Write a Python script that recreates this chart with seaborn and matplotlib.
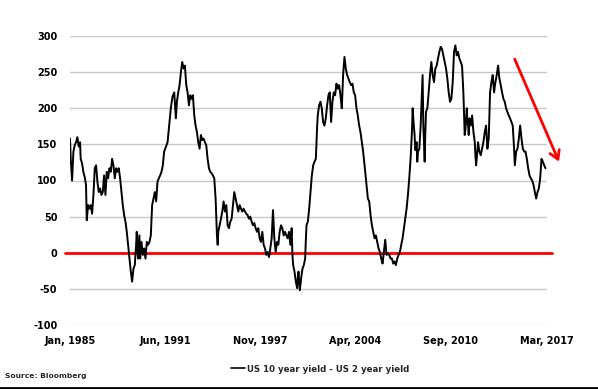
import numpy as np
import pandas as pd
import seaborn as sns
import matplotlib
matplotlib.use("Agg")
import matplotlib.pyplot as plt
from matplotlib.lines import Line2D

years = [
    1985.00, 1985.05, 1985.14, 1985.23, 1985.32, 1985.41, 1985.50, 1985.59, 1985.68, 1985.72,
    1985.81, 1985.90, 1985.99, 1986.08, 1986.13, 1986.22, 1986.31, 1986.40, 1986.49, 1986.58,
    1986.67, 1986.76, 1986.85, 1986.94, 1987.03, 1987.12, 1987.21, 1987.30, 1987.39, 1987.48,
    1987.57, 1987.66, 1987.75, 1987.84, 1987.93, 1988.02, 1988.11, 1988.20, 1988.29, 1988.38,
    1988.47, 1988.56, 1988.65, 1988.74, 1988.83, 1988.92, 1989.01, 1989.10, 1989.19, 1989.28,
    1989.37, 1989.46, 1989.50, 1989.59, 1989.68, 1989.73, 1989.82, 1989.91, 1990.00, 1990.09,
    1990.18, 1990.27, 1990.36, 1990.45, 1990.54, 1990.63, 1990.72, 1990.81, 1990.90, 1990.99,
    1991.08, 1991.17, 1991.26, 1991.35,
    1991.58, 1991.69, 1991.80, 1991.91, 1992.03, 1992.14, 1992.21, 1992.30, 1992.39, 1992.48,
    1992.57, 1992.66, 1992.75, 1992.84, 1992.93, 1993.02, 1993.11, 1993.20, 1993.29, 1993.38,
    1993.47, 1993.56, 1993.65, 1993.74, 1993.83, 1993.92, 1994.01, 1994.10, 1994.19, 1994.28,
    1994.37, 1994.46, 1994.55, 1994.64, 1994.73, 1994.82, 1994.87, 1994.91, 1994.96, 1995.00,
    1995.09, 1995.18, 1995.27, 1995.36, 1995.45, 1995.54, 1995.63, 1995.72, 1995.81, 1995.90,
    1995.99, 1996.08, 1996.17, 1996.26, 1996.35, 1996.44, 1996.53, 1996.62, 1996.71, 1996.80,
    1996.89, 1996.98, 1997.07, 1997.16, 1997.25, 1997.34, 1997.43, 1997.52, 1997.61, 1997.70,
    1997.79, 1997.88, 1997.97, 1998.06,
    1998.15, 1998.24, 1998.33, 1998.42, 1998.51, 1998.60, 1998.69, 1998.74, 1998.78, 1998.87,
    1998.96, 1999.05, 1999.14, 1999.23, 1999.32, 1999.41, 1999.50, 1999.59, 1999.68, 1999.77,
    1999.86, 1999.95, 2000.00, 2000.05, 2000.14, 2000.23, 2000.32, 2000.36, 2000.41, 2000.50,
    2000.59, 2000.68, 2000.77, 2000.86, 2000.90, 2000.95, 2001.04, 2001.13, 2001.22, 2001.31,
    2001.40, 2001.49, 2001.58, 2001.67, 2001.71, 2001.80, 2001.89, 2001.98, 2002.07, 2002.16,
    2002.25, 2002.34, 2002.43, 2002.52, 2002.61, 2002.70, 2002.79, 2002.88, 2002.97, 2003.06,
    2003.15, 2003.24, 2003.33, 2003.42, 2003.51, 2003.60, 2003.69, 2003.78, 2003.87, 2003.96,
    2004.05, 2004.14, 2004.23, 2004.32, 2004.41, 2004.50, 2004.59, 2004.68, 2004.77, 2004.86,
    2004.91, 2005.00, 2005.09, 2005.18, 2005.27, 2005.36, 2005.45, 2005.54, 2005.63, 2005.72,
    2005.81, 2005.90, 2005.99, 2006.08, 2006.17, 2006.26, 2006.35, 2006.44, 2006.53, 2006.62,
    2006.71, 2006.80, 2006.89, 2006.98, 2007.07, 2007.16, 2007.25, 2007.34, 2007.43, 2007.52,
    2007.61, 2007.70, 2007.79, 2007.88, 2007.97, 2008.06, 2008.11, 2008.15, 2008.24, 2008.29,
    2008.38, 2008.42, 2008.47, 2008.56, 2008.65, 2008.74, 2008.78, 2008.83, 2008.87, 2008.92,
    2008.96, 2009.01, 2009.10, 2009.19, 2009.28, 2009.37, 2009.46, 2009.55, 2009.64, 2009.73,
    2009.82, 2009.91, 2010.00, 2010.09, 2010.18, 2010.27, 2010.36, 2010.45, 2010.54, 2010.63,
    2010.72, 2010.81, 2010.90, 2010.99, 2011.08, 2011.17, 2011.26, 2011.35, 2011.44, 2011.53,
    2011.62,
    2011.67, 2011.76, 2011.80, 2011.85, 2011.89, 2011.94, 2012.03, 2012.12, 2012.21, 2012.30,
    2012.34, 2012.39, 2012.43, 2012.52, 2012.61, 2012.70, 2012.79, 2012.88, 2012.97, 2013.06,
    2013.15, 2013.24, 2013.33, 2013.42, 2013.51, 2013.60, 2013.69, 2013.78, 2013.87, 2013.96,
    2014.05, 2014.14, 2014.23, 2014.32, 2014.41, 2014.50, 2014.59, 2014.68, 2014.77, 2014.86,
    2014.95, 2015.00, 2015.09, 2015.18, 2015.27, 2015.36, 2015.45, 2015.54, 2015.63, 2015.72,
    2015.81, 2015.90, 2015.99, 2016.08, 2016.17, 2016.26, 2016.35, 2016.44, 2016.53, 2016.62,
    2016.71, 2016.80, 2016.89, 2016.98, 2017.07,
]

spread_bp = [
    158, 130, 100, 140, 149, 153, 160, 147, 153, 130,
    124, 112, 105, 94, 45, 66, 61, 66, 54, 80,
    117, 121, 98, 84, 89, 80, 84, 107, 80, 112,
    103, 117, 112, 130, 121, 103, 117, 112, 117, 103,
    84, 66, 52, 43, 29, 11, -8, -26, -40, -22,
    -17, 11, 29, -8, 24, -8, 15, -3, 6, -8,
    15, 11, 15, 24, 66, 75, 84, 71, 98, 103,
    107, 112, 121, 140,
    153, 176, 200, 216, 222, 186, 209, 222, 232, 250,
    264, 255, 259, 232, 222, 204, 218, 213, 218, 190,
    176, 167, 153, 144, 163, 156, 158, 153, 149, 130,
    117, 112, 110, 107, 103, 75, 47, 24, 11, 29,
    38, 47, 57, 71, 57, 66, 38, 34, 43, 47,
    66, 84, 75, 66, 57, 66, 61, 57, 61, 57,
    54, 52, 47, 50, 43, 38, 41, 34, 29, 34,
    20, 15, 29, 11,
    6, -3, 1, -6, 6, 20, 59, 38, 20, 1,
    15, 11, 29, 38, 34, 24, 29, 24, 20, 29,
    11, 34, -3, -17, -26, -40, -49, -35, -26, -52,
    -35, -22, -17, -8, 15, 38, 43, 61, 84, 107,
    121, 126, 130, 176, 190, 204, 209, 200, 181, 176,
    186, 204, 218, 222, 181, 209, 222, 218, 234, 227,
    232, 218, 200, 246, 271, 255, 246, 241, 236, 232,
    234, 222, 218, 200, 190, 176, 167, 153, 140, 121,
    112, 94, 75, 71, 52, 38, 29, 20, 24, 15,
    6, 1, -8, -15, 1, 18, -3, -1, -3, -8,
    -8, -15, -12, -17, -8, -3, 1, 11, 20, 34,
    47, 61, 80, 103, 130, 167, 200, 186, 163, 142,
    153, 126, 140, 144, 176, 222, 246, 176, 153, 126,
    163, 195, 200, 222, 246, 264, 246, 236, 255, 259,
    269, 278, 285, 282, 273, 264, 255, 241, 222, 209,
    213, 236, 278, 287, 273, 278, 269, 264, 259, 222,
    163,
    171, 200, 181, 176, 163, 186, 176, 190, 167, 153,
    135, 121, 130, 153, 140, 135, 144, 153, 167, 176,
    144, 158, 222, 236, 246, 222, 236, 246, 259, 241,
    232, 222, 213, 209, 200, 195, 190, 186, 181, 176,
    144, 121, 140, 144, 158, 176, 158, 144, 140, 140,
    130, 117, 107, 103, 100, 94, 84, 75, 84, 89,
    103, 130, 126, 121, 117,
]

tick_years = [1985.0, 1991.42, 1997.83, 2004.25, 2010.67, 2017.17]
tick_labels = ["Jan, 1985", "Jun, 1991", "Nov, 1997", "Apr, 2004", "Sep, 2010", "Mar, 2017"]
y_ticks = [-100, -50, 0, 50, 100, 150, 200, 250, 300]
series_name = "US 10 year yield - US 2 year yield"
source_text = "Source: Bloomberg"
arrow_start = (2014.99, 268)
arrow_end = (2017.98, 126)

df = pd.DataFrame({"year": years, "spread": spread_bp})

sns.set_theme(style="white")
plt.rcParams["font.family"] = ["DejaVu Sans"]
plt.rcParams["axes.unicode_minus"] = False

fig = plt.figure(figsize=(5.98, 3.89), dpi=100)
ax = fig.add_axes([70 / 598, 1 - 325 / 389, 477 / 598, 289 / 389])

ax.set_ylim(-100, 300)
ax.set_xlim(tick_years[0], tick_years[-1])
ax.set_yticks(y_ticks)
ax.yaxis.grid(True, color="#c8c8c8", linewidth=1.0)
ax.xaxis.grid(False)
ax.set_axisbelow(True)
for s in ax.spines.values():
    s.set_visible(False)

ax.axhline(0, xmin=-0.011, xmax=1.011, color="#ff0000", linewidth=2.0, clip_on=False, zorder=2)

sns.lineplot(data=df, x="year", y="spread", ax=ax, color="black", linewidth=1.4,
             estimator=None, sort=False, label=series_name, zorder=3)

ax.annotate("", xy=arrow_end, xytext=arrow_start,
            arrowprops=dict(arrowstyle="->,head_length=0.5,head_width=0.3", color="#ff0000",
                            lw=2.0, shrinkA=0, shrinkB=0),
            annotation_clip=False)

ax.set_xticks(tick_years)
ax.set_xticklabels(tick_labels)
ax.tick_params(axis="both", length=0, labelsize=7, colors="black")
ax.tick_params(axis="y", pad=9)
ax.tick_params(axis="x", pad=8)
for lab in ax.get_xticklabels() + ax.get_yticklabels():
    lab.set_fontweight("bold")
ax.set_xlabel("")
ax.set_ylabel("")

ax.legend_.remove()
fig.legend(handles=[Line2D([0], [0], color="black", linewidth=1.2)], labels=[series_name],
           loc="center", bbox_to_anchor=(320 / 598, 1 - 369 / 389), frameon=False,
           prop={"size": 6.2, "weight": "bold"}, handlelength=1.6, handletextpad=0.2,
           borderpad=0, borderaxespad=0)

fig.text(5 / 598, 1 - 376 / 389, source_text, fontsize=5.4, fontweight="bold",
         ha="left", va="center")

fig.add_artist(Line2D([0, 1], [1 - 387.5 / 389, 1 - 387.5 / 389], color="black",
                      linewidth=2.0, transform=fig.transFigure))

fig.savefig("out.png", dpi=100)
